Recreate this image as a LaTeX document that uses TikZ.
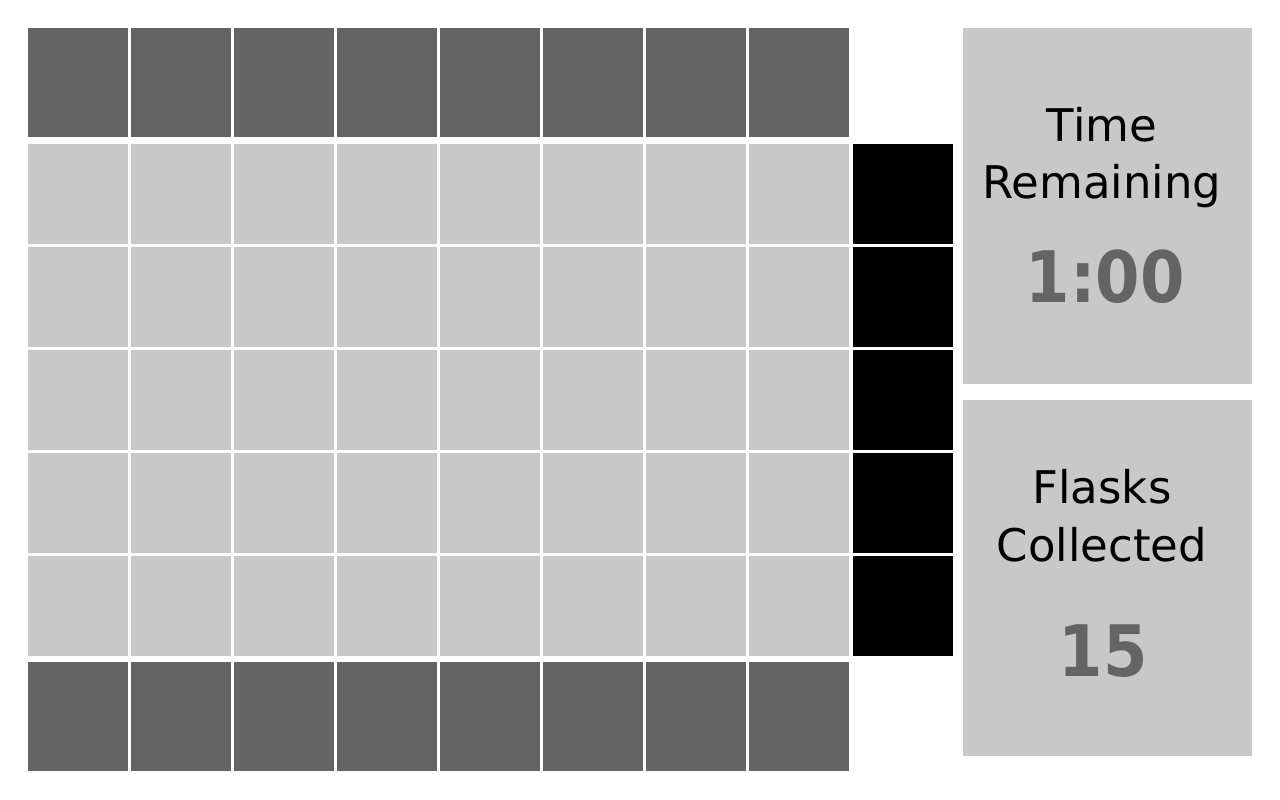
\documentclass[tikz,border=0pt]{standalone}
\usepackage{fontspec}
\setmainfont{DejaVu Sans}
\newfontfamily\numfont{DejaVu Sans Condensed}
\definecolor{darkcell}{HTML}{646464}
\definecolor{lightcell}{HTML}{C8C8C8}
\definecolor{numgray}{HTML}{646464}
\tikzset{
  cellbox/.style={rectangle, inner sep=0pt, outer sep=0pt, draw=none, anchor=north west},
  wallcell/.style={cellbox, fill=darkcell, minimum width=100bp, minimum height=109bp},
  floorcell/.style={cellbox, fill=lightcell, minimum width=100bp, minimum height=100bp},
  exitcell/.style={cellbox, fill=black, minimum width=100bp, minimum height=100bp},
  panelbox/.style={cellbox, fill=lightcell, minimum width=289bp, minimum height=356bp},
  labeltext/.style={inner sep=0pt, anchor=base, font=\fontsize{45bp}{57bp}\selectfont},
  numtext/.style={inner sep=0pt, anchor=base, text=numgray, font=\numfont\fontsize{71bp}{80bp}\selectfont\bfseries}
}
\begin{document}
\begin{tikzpicture}[x=1bp,y=-1bp]
\useasboundingbox (0,0) rectangle (1280,800);
\foreach \i in {0,...,7}{
  \node[wallcell] (top\i) at ({28+103*\i},28) {};
  \node[wallcell] (bot\i) at ({28+103*\i},662) {};
  \foreach \j in {0,...,4}{
    \node[floorcell] (c\i-\j) at ({28+103*\i},{144+103*\j}) {};
  }
}
\foreach \j in {0,...,4}{
  \node[exitcell] (exit\j) at (853,{144+103*\j}) {};
}
\node[panelbox] (timepanel) at (963,28) {};
\node[panelbox] (flaskpanel) at (963,400) {};
\node[labeltext] (t1) at (1102,141) {Time};
\node[labeltext] (t2) at (1102,198) {Remaining};
\node[numtext] (tnum) at (1105,302) {1:00};
\node[labeltext] (f1) at (1102,503) {Flasks};
\node[labeltext] (f2) at (1102,561) {Collected};
\node[numtext] (fnum) at (1103,676) {15};
\end{tikzpicture}
\end{document}
